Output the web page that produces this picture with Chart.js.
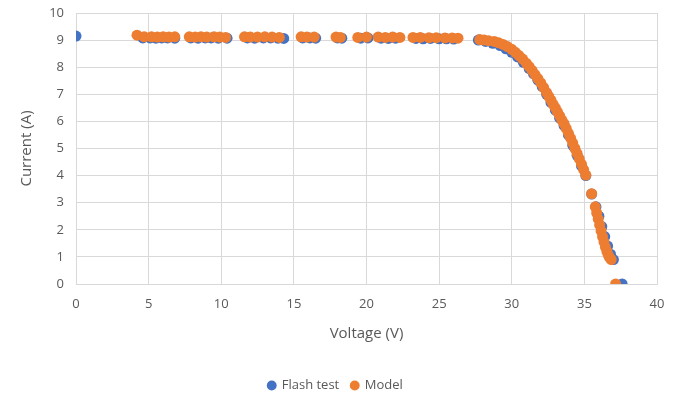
<!DOCTYPE html>
<html>
<head>
<meta charset="utf-8">
<script src="https://cdn.jsdelivr.net/npm/chart.js@4"></script>
<style>
  html, body { margin: 0; padding: 0; background: #fff; }
  #wrap { width: 685px; height: 396px; }
</style>
</head>
<body>
<div id="wrap"><canvas id="ivChart"></canvas></div>
<script>
const xTicks = [0, 5, 10, 15, 20, 25, 30, 35, 40];
const yTicks = [0, 1, 2, 3, 4, 5, 6, 7, 8, 9, 10];

// Flash test (mesure)
const flashVoltage = [0, 4.6, 5.1, 5.5, 5.9, 6.3, 6.8, 7.9, 8.4, 8.9, 9.3, 9.8, 10.4, 11.8, 12.3, 12.9, 13.4, 13.9, 14.3,
  15.6, 16.1, 16.5, 18.0, 18.3, 19.6, 20.1, 21.0, 21.5, 22.0, 23.4, 23.9, 24.4, 25.0, 25.5, 26.0,
  27.7, 28.2, 28.7, 29.2, 29.6, 30.0, 30.4, 30.8, 31.2, 31.5, 31.8, 32.1, 32.4, 32.7, 33.0, 33.3, 33.6,
  33.9, 34.2, 34.5, 34.8, 35.1, 35.5, 35.8, 36.0, 36.2, 36.4, 36.6, 36.8, 37.0, 37.6];
const flashCurrent = [9.15, 9.08, 9.08, 9.07, 9.08, 9.08, 9.07, 9.08, 9.07, 9.08, 9.08, 9.07, 9.07, 9.08, 9.07, 9.08, 9.08, 9.07, 9.06,
  9.08, 9.08, 9.07, 9.08, 9.07, 9.07, 9.08, 9.07, 9.06, 9.07, 9.06, 9.05, 9.06, 9.05, 9.05, 9.04,
  9.0, 8.95, 8.88, 8.8, 8.68, 8.55, 8.38, 8.18, 7.95, 7.75, 7.52, 7.28, 7.0, 6.7, 6.42, 6.12, 5.85,
  5.5, 5.12, 4.75, 4.36, 4.0, 3.32, 2.85, 2.5, 2.12, 1.75, 1.4, 1.1, 0.9, 0];

// Model
const modelVoltage = [4.2, 4.7, 5.2, 5.6, 6.0, 6.4, 6.8, 7.8, 8.2, 8.6, 9.0, 9.5, 9.9, 10.3, 11.6, 12.0, 12.5, 13.0, 13.5, 14.0,
  15.5, 15.9, 16.4, 17.9, 18.2, 19.4, 20.0, 20.8, 21.3, 21.8, 22.3, 23.2, 23.7, 24.3, 24.8, 25.4, 25.9, 26.3,
  27.8, 28.1, 28.4, 28.8, 29.1, 29.4, 29.7, 30.0, 30.25, 30.5, 30.75, 31.0, 31.2, 31.4, 31.6, 31.8, 32.0,
  32.2, 32.4, 32.55, 32.7, 32.85, 33.0, 33.15, 33.3, 33.45, 33.6, 33.75, 33.9, 34.05, 34.2, 34.35, 34.5,
  34.65, 34.8, 34.95, 35.1, 35.5, 35.75, 35.85, 35.95, 36.05, 36.15, 36.25, 36.35, 36.45, 36.55, 36.65,
  36.75, 36.85, 37.15];
const modelCurrent = [9.18, 9.12, 9.12, 9.11, 9.12, 9.11, 9.12, 9.12, 9.11, 9.12, 9.11, 9.12, 9.11, 9.1, 9.12, 9.11, 9.11, 9.12, 9.11, 9.1,
  9.12, 9.11, 9.11, 9.11, 9.1, 9.1, 9.11, 9.11, 9.1, 9.11, 9.1, 9.1, 9.1, 9.09, 9.09, 9.08, 9.08, 9.07,
  9.02, 9.0, 8.98, 8.95, 8.9, 8.84, 8.76, 8.66, 8.55, 8.43, 8.3, 8.15, 8.02, 7.88, 7.73, 7.58, 7.42,
  7.25, 7.06, 6.92, 6.78, 6.63, 6.5, 6.35, 6.2, 6.05, 5.92, 5.74, 5.56, 5.38, 5.2, 5.0, 4.82,
  4.62, 4.42, 4.22, 4.02, 3.33, 2.85, 2.62, 2.4, 2.18, 1.96, 1.75, 1.55, 1.36, 1.2, 1.06,
  0.96, 0.9, 0];

const toPoints = (xs, ys) => xs.map((x, i) => ({ x: x, y: ys[i] }));

const tickColor = '#595959';
const gridColor = '#d9d9d9';
const fontFamily = "'Open Sans', 'Noto Sans', sans-serif";

new Chart(document.getElementById('ivChart').getContext('2d'), {
  type: 'scatter',
  data: {
    datasets: [{
      label: 'Flash test',
      data: toPoints(flashVoltage, flashCurrent),
      backgroundColor: '#4472C4',
      borderWidth: 0,
      pointRadius: 5.5,
      pointHoverRadius: 5.5,
      order: 1
    }, {
      label: 'Model',
      data: toPoints(modelVoltage, modelCurrent),
      backgroundColor: '#ED7D31',
      borderWidth: 0,
      pointRadius: 5.5,
      pointHoverRadius: 5.5,
      order: 0
    }]
  },
  options: {
    responsive: true,
    maintainAspectRatio: false,
    animation: false,
    layout: { padding: { left: 14, right: 28, top: 13, bottom: -6 } },
    scales: {
      x: {
        type: 'linear',
        min: 0, max: 40,
        afterBuildTicks: s => { s.ticks = xTicks.map(v => ({ value: v })); },
        ticks: { color: tickColor, font: { family: fontFamily, size: 13 }, padding: 12 },
        grid: { color: gridColor, drawTicks: false },
        border: { color: gridColor },
        title: { display: true, text: 'Voltage (V)', color: tickColor, font: { family: fontFamily, size: 15 }, padding: { top: 6, bottom: 24 } },
        afterFit: s => { s.height = 83; s.paddingLeft = 0; s.paddingRight = 0; }
      },
      y: {
        type: 'linear',
        min: 0, max: 10,
        afterBuildTicks: s => { s.ticks = yTicks.map(v => ({ value: v })); },
        ticks: { color: tickColor, font: { family: fontFamily, size: 13 }, padding: 12 },
        grid: { color: gridColor, drawTicks: false },
        border: { display: false },
        title: { display: true, text: 'Current (A)', color: tickColor, font: { family: fontFamily, size: 15 } },
        afterFit: s => { s.width = 62; s.paddingTop = 0; s.paddingBottom = 0; }
      }
    },
    plugins: {
      legend: {
        position: 'bottom',
        labels: {
          color: tickColor,
          font: { family: fontFamily, size: 13 },
          usePointStyle: true,
          pointStyle: 'circle',
          boxWidth: 7,
          boxHeight: 7,
          padding: 12,
          sort: (a, b) => a.datasetIndex - b.datasetIndex
        }
      },
      tooltip: { enabled: false }
    }
  }
});
</script>
</body>
</html>
